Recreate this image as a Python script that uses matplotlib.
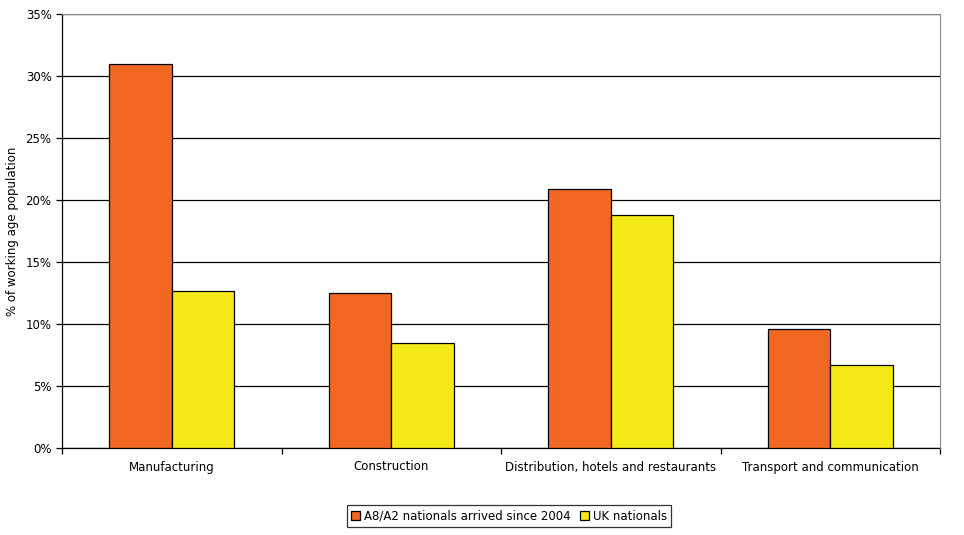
import numpy as np
import matplotlib
matplotlib.use('Agg')
import matplotlib.pyplot as plt
from matplotlib.ticker import FuncFormatter

# data
sectors = ['Manufacturing', 'Construction', 'Distribution, hotels and restaurants',
           'Transport and communication']
a8_a2 = [31.0, 12.5, 20.9, 9.6]
uk = [12.7, 8.5, 18.8, 6.7]
series_names = ['A8/A2 nationals arrived since 2004', 'UK nationals']

plt.rcParams['font.family'] = ['DejaVu Sans']
plt.rcParams['font.size'] = 8.5

fig = plt.figure(figsize=(9.64, 5.35), dpi=100)
ax = fig.add_axes([62 / 964, 1 - 448 / 535, 878 / 964, 434 / 535])

x = np.arange(len(sectors))
w = 0.285
ax.bar(x - w / 2, a8_a2, w, color='#F26722', edgecolor='black', linewidth=0.9,
       label=series_names[0], zorder=3)
ax.bar(x + w / 2, uk, w, color='#F5E918', edgecolor='black', linewidth=0.9,
       label=series_names[1], zorder=3)

ax.set_xlim(-0.5, len(sectors) - 0.5)
ax.set_ylim(0, 35)
ax.set_yticks(np.arange(0, 36, 5))
ax.yaxis.set_major_formatter(FuncFormatter(lambda v, p: f'{v:.0f}%'))
ax.grid(axis='y', color='black', linewidth=0.9, zorder=0)
ax.set_axisbelow(True)

# category labels centred, ticks on boundaries
ax.set_xticks(x)
ax.set_xticklabels(sectors)
ax.tick_params(axis='x', length=0, pad=9)
ax.set_xticks(np.arange(-0.5, len(sectors)), minor=True)
ax.tick_params(axis='x', which='minor', length=4, direction='out', width=0.9)
ax.tick_params(axis='y', length=4, width=0.9, direction='out')

for s in ['top', 'right']:
    ax.spines[s].set_color('#888888')
    ax.spines[s].set_zorder(4)
for s in ['left', 'bottom']:
    ax.spines[s].set_color('black')
    ax.spines[s].set_linewidth(0.9)

ax.set_ylabel('% of working age population')
ax.yaxis.set_label_coords(-0.049, 0.5)

leg = fig.legend(loc='center', bbox_to_anchor=(509 / 964, 1 - 516 / 535), ncol=2,
                 frameon=True, fancybox=False, edgecolor='black', handlelength=0.8,
                 handleheight=0.8, handletextpad=0.3, columnspacing=0.8,
                 borderpad=0.35, borderaxespad=0)
leg.get_frame().set_linewidth(0.9)

fig.savefig('out.png', dpi=100)
